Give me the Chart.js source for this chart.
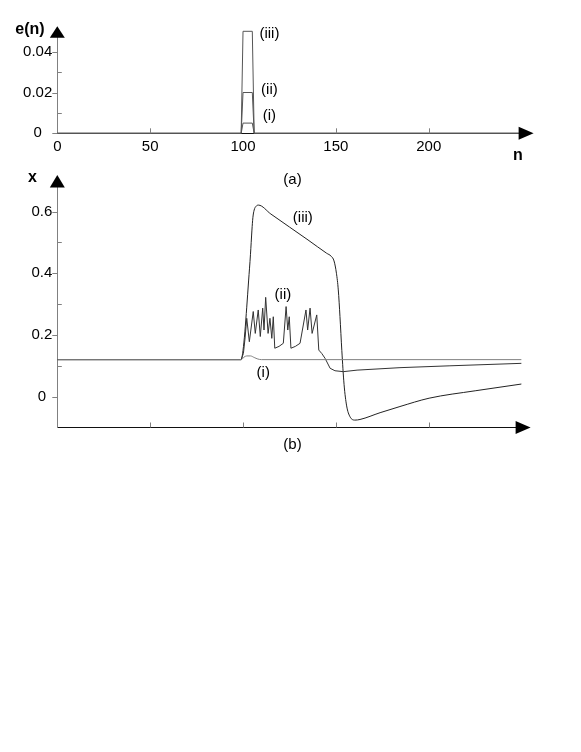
<!DOCTYPE html>
<html>
<head>
<meta charset="utf-8">
<script src="https://cdn.jsdelivr.net/npm/chart.js@4/dist/chart.umd.min.js"></script>
<style>
  html, body { margin: 0; padding: 0; background: #fff; }
  body { width: 581px; height: 752px; position: relative; overflow: hidden; }
  canvas { position: absolute; left: 0; }
  #ca { top: 0; }
  #cb { top: 165px; }
</style>
</head>
<body>
<canvas id="ca" width="581" height="200"></canvas>
<canvas id="cb" width="581" height="300"></canvas>
<script>
// ---------- DATA: panel (a), pulse e(n) ----------
const pulseN    = [0, 99, 100, 105, 106, 250];
const pulseI    = [0, 0, 0.005, 0.005, 0, 0];
const pulseII   = [0, 0, 0.02, 0.02, 0, 0];
const pulseIII  = [0, 0, 0.05, 0.05, 0, 0];
const aXTicks   = [0, 50, 100, 150, 200];
const aYTicks   = [0, 0.02, 0.04];
const aYMinor   = [0.01, 0.03];

// ---------- DATA: panel (b), response x ----------
const respIN  = [0, 99, 100.5, 102, 104, 106, 108, 110, 250];
const respIX  = [0.12, 0.12, 0.128, 0.132, 0.132, 0.127, 0.122, 0.12, 0.12];

const respIIN = [0, 99, 100.2, 101.1, 102.0, 103.4, 105.5, 106.6, 108.2, 109.3, 110.6, 111.3, 112.2, 113.5, 114.5, 115.5, 116.3, 117.1, 119.4, 121.7, 123.2, 124.1, 124.9, 125.8, 128.2, 130.7, 133.9, 134.8, 136.1, 137.2, 139.7, 140.8, 142.4, 144.2, 146.9, 149.5, 154.0, 161.4, 184.5, 211.4, 250];
const respIIX = [0.12, 0.12, 0.14, 0.19, 0.254, 0.178, 0.276, 0.205, 0.281, 0.195, 0.287, 0.216, 0.322, 0.205, 0.254, 0.189, 0.259, 0.157, 0.163, 0.173, 0.292, 0.216, 0.259, 0.157, 0.163, 0.173, 0.281, 0.216, 0.287, 0.205, 0.265, 0.151, 0.14, 0.124, 0.092, 0.084, 0.081, 0.086, 0.094, 0.100, 0.108];

const respIIIN = [0, 99, 100, 101, 102, 103, 104, 104.8, 105.3, 106, 107, 108.3, 115, 125, 135, 145, 147.5, 149, 150.3, 151.3, 152.2, 153.2, 154.4, 155.8, 157.6, 160.3, 163, 173.8, 184.5, 200.2, 225, 250];
const respIIIX = [0.12, 0.12, 0.15, 0.21, 0.29, 0.375, 0.46, 0.54, 0.58, 0.605, 0.617, 0.621, 0.592, 0.55, 0.508, 0.465, 0.455, 0.44, 0.40, 0.346, 0.26, 0.15, 0.04, -0.03, -0.065, -0.076, -0.074, -0.052, -0.032, -0.005, 0.019, 0.041];

const bXTicks = [50, 100, 150, 200];
const bYTicks = [0, 0.2, 0.4, 0.6];
const bYMinor = [0.1, 0.3, 0.5];

// ---------- helpers ----------
const FONT = "'Liberation Sans', Arial, Helvetica, sans-serif";
const zip = (xs, ys) => xs.map((x, i) => ({ x: x, y: ys[i] }));

const decor = {
  id: 'decor',
  afterDraw(chart, args, o) {
    const ctx = chart.ctx, a = chart.chartArea;
    const xs = chart.scales.x, ys = chart.scales.y;
    ctx.save();
    ctx.lineWidth = 1;
    // y ticks: major outside, minor inside
    ctx.strokeStyle = o.yColor;
    ctx.beginPath();
    o.yMajor.forEach(v => { const y = Math.round(ys.getPixelForValue(v)) + 0.5; ctx.moveTo(a.left - 5, y); ctx.lineTo(a.left, y); });
    o.yMinor.forEach(v => { const y = Math.round(ys.getPixelForValue(v)) + 0.5; ctx.moveTo(a.left, y); ctx.lineTo(a.left + 4.5, y); });
    ctx.stroke();
    // x ticks inside
    ctx.strokeStyle = o.xTickColor;
    ctx.beginPath();
    o.xTicks.forEach(v => { const x = Math.round(xs.getPixelForValue(v)) + 0.5; ctx.moveTo(x, a.bottom); ctx.lineTo(x, a.bottom - 5); });
    ctx.stroke();
    // arrows
    ctx.fillStyle = '#000';
    const yb = a.bottom;
    ctx.beginPath();
    ctx.moveTo(a.right + o.xArrowTip, yb);
    ctx.lineTo(a.right + o.xArrowBase, yb - 6.5);
    ctx.lineTo(a.right + o.xArrowBase, yb + 6.5);
    ctx.closePath(); ctx.fill();
    const xl = a.left;
    ctx.beginPath();
    ctx.moveTo(xl, a.top + o.yArrowTip);
    ctx.lineTo(xl - 7.5, a.top + o.yArrowBase);
    ctx.lineTo(xl + 7.5, a.top + o.yArrowBase);
    ctx.closePath(); ctx.fill();
    // free texts
    ctx.textAlign = 'center';
    ctx.textBaseline = 'alphabetic';
    o.texts.forEach(t => { ctx.font = t.font; ctx.fillStyle = '#000'; ctx.fillText(t.text, t.x, t.y); });
    // curve labels in data coordinates
    ctx.font = '15px ' + FONT;
    o.curveLabels.forEach(l => { ctx.fillText(l.text, xs.getPixelForValue(l.n), ys.getPixelForValue(l.v)); });
    ctx.restore();
  }
};

function baseScales(xTickVals, yTickVals, yMin, yMax, xH, showXLabels, yFmt) {
  return {
    x: {
      type: 'linear', min: 0, max: 250,
      afterBuildTicks: s => { s.ticks = xTickVals.map(v => ({ value: v })); },
      afterFit: s => { s.height = xH; },
      grid: { display: true, drawOnChartArea: false, drawTicks: false, color: 'transparent' },
      border: { display: true, color: '#111', width: 1 },
      ticks: { display: showXLabels, padding: 5, color: '#000', font: { family: FONT, size: 15 }, maxRotation: 0, autoSkip: false }
    },
    y: {
      type: 'linear', min: yMin, max: yMax,
      afterBuildTicks: s => { s.ticks = yTickVals.map(v => ({ value: v })); },
      afterFit: s => { s.width = 57.3; },
      grid: { display: true, drawOnChartArea: false, drawTicks: false, color: 'transparent' },
      border: { display: true, color: '#808080', width: 1 },
      ticks: { padding: 5, crossAlign: 'center', color: '#000', font: { family: FONT, size: 15 }, callback: yFmt }
    }
  };
}

// ---------- chart (a) ----------
new Chart(document.getElementById('ca'), {
  type: 'line',
  data: {
    datasets: [
      { data: zip(pulseN, pulseI),   borderColor: '#555', borderWidth: 1, pointRadius: 0, tension: 0, clip: 5 },
      { data: zip(pulseN, pulseII),  borderColor: '#555', borderWidth: 1, pointRadius: 0, tension: 0, clip: 5 },
      { data: zip(pulseN, pulseIII), borderColor: '#555', borderWidth: 1, pointRadius: 0, tension: 0, clip: 5 }
    ]
  },
  options: {
    responsive: false, animation: false, devicePixelRatio: 1,
    layout: { padding: { left: 0, right: 59.4, top: 31.3, bottom: 0 } },
    plugins: {
      legend: { display: false }, tooltip: { enabled: false },
      decor: {
        yColor: '#808080', xTickColor: '#808080',
        yMajor: aYTicks, yMinor: aYMinor, xTicks: [50, 150, 200],
        xArrowBase: -3, xArrowTip: 12, yArrowTip: -5, yArrowBase: 6.5,
        texts: [
          { text: 'e(n)', x: 30, y: 34, font: 'bold 16px ' + FONT },
          { text: 'n', x: 518, y: 160, font: 'bold 16px ' + FONT },
          { text: '(a)', x: 292.5, y: 183.5, font: '15px ' + FONT }
        ],
        curveLabels: [
          { text: '(iii)', n: 114.2, v: 0.0465 },
          { text: '(ii)',  n: 114.2, v: 0.0195 },
          { text: '(i)',   n: 114.2, v: 0.0065 }
        ]
      }
    },
    scales: baseScales(aXTicks, aYTicks, 0, 0.05, 66.7, true, v => (v === 0 ? '0' : v.toFixed(2)))
  },
  plugins: [decor]
});

// ---------- chart (b) ----------
new Chart(document.getElementById('cb'), {
  type: 'line',
  data: {
    datasets: [
      { data: zip(respIN, respIX),     borderColor: '#808080', borderWidth: 1, pointRadius: 0, cubicInterpolationMode: 'monotone', tension: 0.4 },
      { data: zip(respIIN, respIIX),   borderColor: '#333', borderWidth: 1, pointRadius: 0, tension: 0 },
      { data: zip(respIIIN, respIIIX), borderColor: '#222', borderWidth: 1, pointRadius: 0, cubicInterpolationMode: 'monotone', tension: 0.4 }
    ]
  },
  options: {
    responsive: false, animation: false, devicePixelRatio: 1,
    layout: { padding: { left: 0, right: 59.4, top: 21.9, bottom: 0 } },
    plugins: {
      legend: { display: false }, tooltip: { enabled: false },
      decor: {
        yColor: '#808080', xTickColor: '#808080',
        yMajor: bYTicks, yMinor: bYMinor, xTicks: bXTicks,
        xArrowBase: -6, xArrowTip: 9, yArrowTip: -12, yArrowBase: 0.5,
        texts: [
          { text: 'x', x: 32.5, y: 182 - 165, font: 'bold 16px ' + FONT },
          { text: '(b)', x: 292.5, y: 448.5 - 165, font: '15px ' + FONT }
        ],
        curveLabels: [
          { text: '(iii)', n: 132.2, v: 0.566 },
          { text: '(ii)',  n: 121.5, v: 0.318 },
          { text: '(i)',   n: 110.9, v: 0.064 }
        ]
      }
    },
    scales: baseScales(bXTicks, bYTicks, -0.1, 0.68, 37.5, false, v => (v === 0 ? '0' : v.toFixed(1)))
  },
  plugins: [decor]
});
</script>
</body>
</html>
